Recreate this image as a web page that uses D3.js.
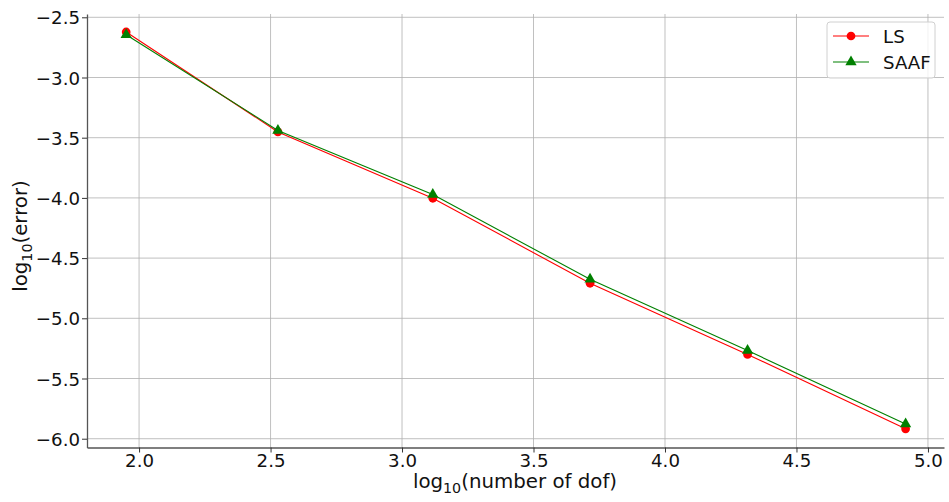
<!DOCTYPE html>
<html>
<head>
<meta charset="utf-8">
<script src="https://cdn.jsdelivr.net/npm/d3@7"></script>
<style>
	body { margin: 0; background: #fff; }
	svg { display: block; font-family: "DejaVu Sans", sans-serif; }
	.grid line { stroke: #b0b0b0; stroke-width: 0.8; }
</style>
</head>
<body>
<svg id="chart" width="949" height="502"></svg>
<script>
// Convergence data: log10(dof) against log10(error) for both schemes.
var dofLog = [1.951, 2.528, 3.117, 3.715, 4.314, 4.915];
var lsError = [-2.622, -3.452, -4.003, -4.709, -5.300, -5.918];
var saafError = [-2.645, -3.440, -3.972, -4.676, -5.268, -5.878];
var xTicks = [2.0, 2.5, 3.0, 3.5, 4.0, 4.5, 5.0];
var yTicks = [-2.5, -3.0, -3.5, -4.0, -4.5, -5.0, -5.5, -6.0];

var series = [
	{name: 'LS', values: lsError, color: '#ff0000', marker: d3.symbolCircle},
	{name: 'SAAF', values: saafError, color: '#008000', marker: d3.symbolTriangle}
];

var svg = d3.select('#chart');
var plotLeft = 87, plotRight = 944, plotTop = 14, plotBottom = 447.5;
var tickFont = 18.2, labelFont = 19.8;

var x = d3.scaleLinear().domain([1.802, 5.061]).range([plotLeft, plotRight]);
var y = d3.scaleLinear().domain([-2.4726, -6.073]).range([plotTop, plotBottom]);

// Grid lines first so everything else sits on top.
var grid = svg.append('g').attr('class', 'grid');
grid.selectAll('.gx').data(xTicks).enter().append('line')
	.attr('x1', function(d) { return x(d); }).attr('x2', function(d) { return x(d); })
	.attr('y1', plotTop).attr('y2', plotBottom);
grid.selectAll('.gy').data(yTicks).enter().append('line')
	.attr('y1', function(d) { return y(d); }).attr('y2', function(d) { return y(d); })
	.attr('x1', plotLeft).attr('x2', plotRight);

// Axes (only left and bottom spines are shown).
var fmt = function(d) { return d3.format('.1f')(d).replace('-', '\u2212'); };
var xAxis = svg.append('g').attr('transform', 'translate(0,' + plotBottom + ')')
	.call(d3.axisBottom(x).tickValues(xTicks).tickFormat(fmt).tickSize(5).tickPadding(2).tickSizeOuter(0));
var yAxis = svg.append('g').attr('transform', 'translate(' + plotLeft + ',0)')
	.call(d3.axisLeft(y).tickValues(yTicks).tickFormat(fmt).tickSize(5).tickPadding(2).tickSizeOuter(0));
[xAxis, yAxis].forEach(function(ax) {
	ax.select('.domain').attr('stroke', '#555').attr('stroke-width', 1.3);
	ax.selectAll('.tick line').attr('stroke', '#333').attr('stroke-width', 1);
	ax.selectAll('.tick text').attr('fill', '#111').style('font-size', tickFont + 'px')
		.style('font-family', '"DejaVu Sans", sans-serif');
});
yAxis.selectAll('.tick text').attr('dy', '0.36em');

// Axis labels with subscripted 10.
function subLabel(g, before, after) {
	g.append('tspan').text(before);
	g.append('tspan').text('10').attr('dy', 5).style('font-size', (labelFont * 0.72) + 'px');
	g.append('tspan').text(after).attr('dy', -5);
}
var xLabel = svg.append('text').attr('x', 515).attr('y', 488)
	.attr('text-anchor', 'middle').style('font-size', labelFont + 'px').attr('fill', '#111');
subLabel(xLabel, 'log', '(number of dof)');
var yLabel = svg.append('text').attr('transform', 'translate(27,236) rotate(-90)')
	.attr('text-anchor', 'middle').style('font-size', labelFont + 'px').attr('fill', '#111');
subLabel(yLabel, 'log', '(error)');

// Data lines and markers.
var line = d3.line()
	.x(function(d, i) { return x(dofLog[i]); })
	.y(function(d) { return y(d); });
series.forEach(function(s) {
	svg.append('path').datum(s.values)
		.attr('d', line).attr('fill', 'none')
		.attr('stroke', s.color).attr('stroke-width', 1.1);
	svg.selectAll(null).data(s.values).enter().append('path')
		.attr('d', d3.symbol().type(s.marker).size(s.marker === d3.symbolCircle ? 60 : 55))
		.attr('transform', function(d, i) { return 'translate(' + x(dofLog[i]) + ',' + y(d) + ')'; })
		.attr('fill', s.color);
});

// Legend box in the upper right.
var legend = svg.append('g').attr('transform', 'translate(827,22)');
legend.append('rect').attr('width', 108).attr('height', 56).attr('rx', 3)
	.attr('fill', 'rgba(255,255,255,0.8)').attr('stroke', '#d0d0d0');
series.forEach(function(s, i) {
	var row = legend.append('g').attr('transform', 'translate(0,' + (14 + i * 26) + ')');
	row.append('line').attr('x1', 6).attr('x2', 42).attr('stroke', s.color).attr('stroke-width', 1.1);
	row.append('path').attr('d', d3.symbol().type(s.marker).size(s.marker === d3.symbolCircle ? 60 : 55))
		.attr('transform', 'translate(24,0)').attr('fill', s.color);
	row.append('text').attr('x', 56).attr('dy', '0.36em').text(s.name)
		.style('font-size', tickFont + 'px').attr('fill', '#111');
});
</script>
</body>
</html>
